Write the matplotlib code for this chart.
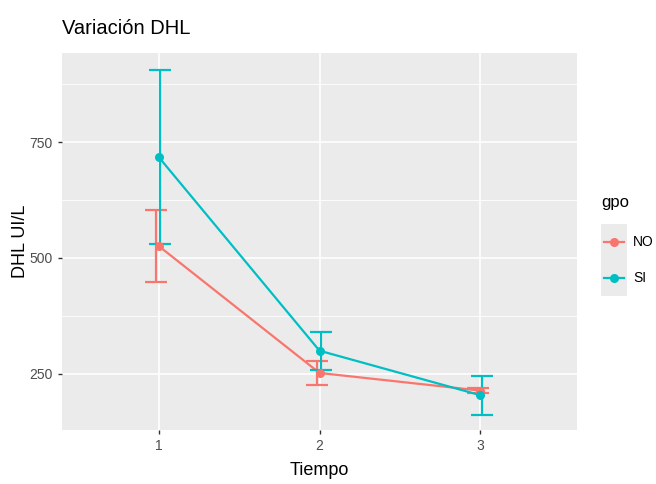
import matplotlib
matplotlib.use("Agg")
import matplotlib.pyplot as plt
from matplotlib.lines import Line2D
from matplotlib.patches import Rectangle

plt.rcParams['font.family'] = ['Liberation Sans', 'DejaVu Sans']

# mean DHL per group and time, with error half-widths
tiempo = [1, 2, 3]
grupos = ['NO', 'SI']
media_no = [526, 252, 214]
err_no = [77, 26, 6]
media_si = [718, 300, 204]
err_si = [187, 41, 42]
colores = {'NO': '#F8766D', 'SI': '#00BFC4'}
dodge = {'NO': -0.015, 'SI': 0.012}

fig = plt.figure(figsize=(6.56, 4.84), dpi=100)
ax = fig.add_axes([62 / 656, 1 - 430 / 484, (577 - 62) / 656, (430 - 53) / 484])
ax.set_facecolor('#EBEBEB')

ax.set_xlim(0.4, 3.6)
ax.set_ylim(129, 942)
ax.set_yticks([250, 500, 750])
ax.set_yticks([375, 625, 875], minor=True)
ax.set_xticks(tiempo)
ax.grid(True, which='major', color='white', linewidth=1.2)
ax.grid(True, which='minor', axis='y', color='white', linewidth=0.6)
ax.set_axisbelow(True)
for s in ax.spines.values():
    s.set_visible(False)
ax.tick_params(which='major', length=3, color='#333333', labelcolor='#4D4D4D', labelsize=10, width=1)
ax.tick_params(which='minor', length=0)

for g, medias, errs in [('NO', media_no, err_no), ('SI', media_si, err_si)]:
    c = colores[g]
    ax.plot(tiempo, medias, color=c, linewidth=1.6, zorder=3)
    ax.scatter(tiempo, medias, color=c, s=30, zorder=4)
    ax.errorbar([t + dodge[g] for t in tiempo], medias, yerr=errs, fmt='none',
                ecolor=c, elinewidth=1.6, capsize=8, capthick=1.6, zorder=3)

ax.set_xlabel('Tiempo', fontsize=13, color='black')
ax.xaxis.set_label_coords(0.5, -0.085)
ax.set_ylabel('DHL UI/L', fontsize=13, color='black')
ax.yaxis.set_label_coords(-33 / 515, 0.5)
fig.text(62 / 656, 1 - 28 / 484, 'Variación DHL', fontsize=14.5, va='center', ha='left')

# legend drawn by hand, ggplot style
fig.text(601 / 656, 1 - 202 / 484, 'gpo', fontsize=12, va='center', ha='left')
fig.patches.append(Rectangle((601 / 656, 1 - 296 / 484), 26 / 656, 72 / 484,
                             transform=fig.transFigure, facecolor='#EBEBEB', edgecolor='none'))
for i, g in enumerate(grupos):
    yk = 1 - (242 + 36 * i) / 484
    fig.add_artist(Line2D([604 / 656, 624 / 656], [yk, yk], transform=fig.transFigure,
                          color=colores[g], linewidth=1.6))
    fig.add_artist(Line2D([614 / 656], [yk], transform=fig.transFigure, marker='o',
                          markersize=5.5, color=colores[g]))
    fig.text(633 / 656, yk, g, fontsize=10, va='center', ha='left')

fig.savefig('out.png', dpi=100)
